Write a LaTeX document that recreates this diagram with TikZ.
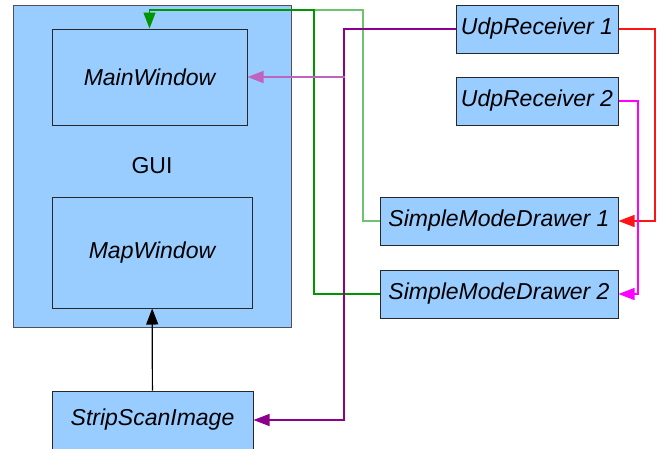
\documentclass[tikz,border=0pt]{standalone}
\usepackage{fontspec}
\setmainfont{Liberation Sans}
\usepackage{tikz}
\usetikzlibrary{arrows.meta,positioning,calc}
\usepackage{xcolor}
\definecolor{boxblue}{RGB}{153,204,255}
\definecolor{boxedge}{RGB}{40,40,40}
\definecolor{guiedge}{RGB}{80,80,90}
\definecolor{darkgreen}{RGB}{0,150,0}
\definecolor{lightgreen}{RGB}{110,195,110}
\definecolor{darkpurple}{RGB}{140,0,140}
\definecolor{lightpurple}{RGB}{190,100,190}
\definecolor{brightred}{RGB}{255,20,20}
\definecolor{brightmagenta}{RGB}{255,0,255}

\begin{document}
\begin{tikzpicture}[
    x=1pt, y=-1pt,
    module/.style={rectangle, draw=boxedge, line width=1pt, fill=boxblue,
        font=\itshape\fontsize{23}{27}\selectfont, inner sep=0pt},
    group/.style={rectangle, draw=guiedge, line width=1pt, fill=boxblue,
        font=\fontsize{23}{27}\selectfont, inner sep=0pt},
    arr/.style={-{Triangle[length=16pt, width=12pt]}, line width=1.2pt}
]
    \useasboundingbox (0,0) rectangle (668,448);

    % GUI container with its two windows
    \node[group, minimum width=278pt, minimum height=322pt] (gui) at (152,166) {GUI};
    \node[module, minimum width=195pt, minimum height=96pt] (main) at (149.5,77) {MainWindow};
    \node[module, minimum width=200pt, minimum height=111pt] (map) at (152,252.5) {MapWindow};
    \node[module, minimum width=201pt, minimum height=58pt] (strip) at (152.5,420) {StripScanImage};

    % receivers and drawers
    \node[module, minimum width=162pt, minimum height=48pt] (udp1) at (537,29) {UdpReceiver 1};
    \node[module, minimum width=162pt, minimum height=48pt] (udp2) at (537,101) {UdpReceiver 2};
    \node[module, minimum width=238pt, minimum height=48pt] (smd1) at (499,221) {SimpleModeDrawer 1};
    \node[module, minimum width=238pt, minimum height=48pt] (smd2) at (499,294) {SimpleModeDrawer 2};

    \coordinate (gtop) at (149.5,10);
    \coordinate (pjoin) at (344.5,77);

    \draw[arr, black] (strip) -- (map);
    \draw[arr, lightgreen, -] (smd1.west) -- ++(-16.5,0) |- (gtop);
    \draw[arr, darkgreen] (smd2.west) -- ++(-65.5,0) |- (gtop) -- (main.north);
    \draw[arr, darkpurple] (udp1.west) -- ++(-111.5,0) |- (strip.east);
    \draw[arr, lightpurple] (pjoin) -- (main.east);
    \draw[arr, brightred] (udp1.east) -- ++(36.5,0) |- (smd1.east);
    \draw[arr, brightmagenta] (udp2.east) -- ++(19.5,0) |- (smd2.east);
\end{tikzpicture}
\end{document}
